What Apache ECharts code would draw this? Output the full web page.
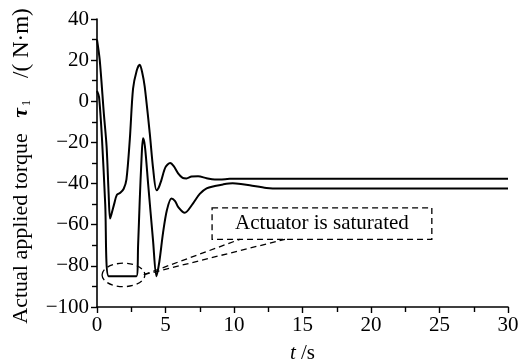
<!DOCTYPE html>
<html>
<head>
<meta charset="utf-8">
<script src="https://cdn.jsdelivr.net/npm/echarts@6/dist/echarts.min.js"></script>
<style>
  html, body { margin: 0; padding: 0; background: #fff; }
  #chart { width: 519px; height: 363px; }
</style>
</head>
<body>
<div id="chart"></div>
<script>
// Torque response with actuator saturation (limit -85 N·m)
const satTime = [0, 0.15, 0.37, 0.6, 0.85, 2.88, 3.0, 3.12, 3.25, 3.36, 3.5, 3.73, 4.09, 4.34, 4.55, 4.82, 5.1, 5.43, 5.7, 5.92, 6.4, 7.0, 7.5, 8.0, 8.6, 9.2, 9.9, 10.5, 11.15, 12.37, 13.35, 15, 20, 25, 30];
const satTorque = [5, 2, -19, -50, -85, -85, -70, -48, -28, -18, -22, -40, -67.6, -85, -78, -64, -53, -47.2, -48.5, -51.3, -54.2, -49.7, -45, -42.3, -41.2, -40.4, -39.9, -40.2, -40.8, -42.1, -42.4, -42.4, -42.4, -42.4, -42.4];

// Response without saturation
const freeTime = [0, 0.2, 0.5, 0.7, 0.85, 0.95, 1.05, 1.25, 1.45, 1.7, 1.95, 2.15, 2.4, 2.63, 2.9, 3.12, 3.3, 3.48, 3.85, 4.1, 4.34, 4.5, 4.7, 5.0, 5.34, 5.6, 5.92, 6.25, 6.53, 6.9, 7.38, 8.0, 8.6, 9.5, 10, 15, 20, 25, 30];
const freeTorque = [30, 20, -6, -22, -45, -57, -55, -50, -45.5, -44.5, -42.5, -38, -18, 6, 15, 17.8, 14, 7.2, -15.5, -33, -43.2, -42, -38.3, -32, -30, -31.5, -35, -37.2, -37.5, -36.6, -36.4, -37.4, -38, -37.8, -37.6, -37.6, -37.6, -37.6, -37.6];

// Axis ranges and tick steps
const xRange = [0, 30], xStep = 5;
const yRange = [-100, 40], yStep = 20;

// Annotation anchors in data units
const noteText = 'Actuator is saturated';
const ellipseBounds = { t: [0.37, 3.49], v: [-78.7, -90.1] };
const noteBox = { t: [8.4, 24.44], v: [-51.8, -67.1] };
const leaderStart = [3.42, -84.3];
const leaderEnds = [[10.43, -67.1], [13.72, -67.1]];

const serif = '"Liberation Serif", "DejaVu Serif", serif';

const pair = (ts, vs) => ts.map((t, i) => [t, vs[i]]);
// Typographic minus for negative tick values
const tickText = (v) => String(v).replace('-', '\u2212');

const chart = echarts.init(document.getElementById('chart'), null, { renderer: 'canvas' });

const axisCommon = {
  axisLine: { show: true, onZero: false, lineStyle: { color: '#000', width: 1.6 } },
  axisTick: { show: true, inside: false, length: 6, lineStyle: { color: '#000', width: 1.4 } },
  minorTick: { show: true, splitNumber: 2, length: 5, lineStyle: { color: '#000', width: 1.4 } },
  splitLine: { show: false },
  axisLabel: { color: '#000', fontFamily: serif, fontSize: 21, formatter: tickText }
};

chart.setOption({
  animation: false,
  backgroundColor: '#fff',
  grid: { left: 97, right: 11, top: 19, bottom: 56, containLabel: false, outerBoundsMode: 'none' },
  xAxis: Object.assign({}, axisCommon, {
    type: 'value', min: xRange[0], max: xRange[1], interval: xStep,
    axisLabel: Object.assign({}, axisCommon.axisLabel, { margin: 8 }),
    name: '{i|t} /s',
    nameLocation: 'middle',
    nameGap: 36,
    nameTextStyle: {
      color: '#000', fontFamily: serif, fontSize: 21,
      rich: { i: { fontFamily: serif, fontSize: 21, fontStyle: 'italic', color: '#000' } }
    }
  }),
  yAxis: Object.assign({}, axisCommon, {
    type: 'value', min: yRange[0], max: yRange[1], interval: yStep,
    axisLabel: Object.assign({}, axisCommon.axisLabel, { margin: 8 }),
    name: 'Actual applied torque {tau|τ}{sub|1}{gap| }{unit|/( N·m)}{tail| }',
    nameLocation: 'middle',
    nameGap: 64,
    nameRotate: 90,
    nameTextStyle: {
      color: '#000', fontFamily: serif, fontSize: 22,
      rich: {
        tau: { fontFamily: serif, fontSize: 22, fontStyle: 'italic', fontWeight: 'bold', color: '#000', padding: [0, 0, 0, 10] },
        sub: { fontFamily: serif, fontSize: 12, color: '#000', verticalAlign: 'bottom', padding: [9, 0, 0, 2] },
        gap: { fontSize: 22, width: 22 },
        unit: { fontFamily: serif, fontSize: 23, color: '#000' },
        tail: { fontSize: 22, width: 6 }
      }
    }
  }),
  series: [
    {
      type: 'line', data: pair(satTime, satTorque), showSymbol: false, smooth: 0.3,
      lineStyle: { color: '#000', width: 2 }
    },
    {
      type: 'line', data: pair(freeTime, freeTorque), showSymbol: false, smooth: 0.3,
      lineStyle: { color: '#000', width: 2 }
    }
  ]
});

// Place the dashed callout in pixel space from its data anchors
const px = (p) => chart.convertToPixel({ gridIndex: 0 }, p);
const e0 = px([ellipseBounds.t[0], ellipseBounds.v[0]]);
const e1 = px([ellipseBounds.t[1], ellipseBounds.v[1]]);
const b0 = px([noteBox.t[0], noteBox.v[0]]);
const b1 = px([noteBox.t[1], noteBox.v[1]]);
const s0 = px(leaderStart);
const dash = { stroke: '#000', lineWidth: 1.3, lineDash: [6, 4], fill: null };

const graphics = [
  {
    type: 'ellipse',
    shape: { cx: (e0[0] + e1[0]) / 2, cy: (e0[1] + e1[1]) / 2, rx: Math.abs(e1[0] - e0[0]) / 2, ry: Math.abs(e1[1] - e0[1]) / 2 },
    style: Object.assign({}, dash, { fill: 'transparent' }),
    z: 10
  },
  {
    type: 'rect',
    shape: { x: b0[0], y: b0[1], width: b1[0] - b0[0], height: b1[1] - b0[1] },
    style: Object.assign({}, dash, { fill: 'transparent' }),
    z: 10
  },
  {
    type: 'text',
    x: (b0[0] + b1[0]) / 2, y: (b0[1] + b1[1]) / 2,
    style: { text: noteText, fill: '#000', font: '21px ' + serif, align: 'center', verticalAlign: 'middle' },
    z: 11
  }
];
leaderEnds.forEach((end) => {
  const q = px(end);
  graphics.push({
    type: 'line',
    shape: { x1: s0[0], y1: s0[1], x2: q[0], y2: q[1] },
    style: dash,
    z: 10
  });
});
chart.setOption({ graphic: graphics });
</script>
</body>
</html>
